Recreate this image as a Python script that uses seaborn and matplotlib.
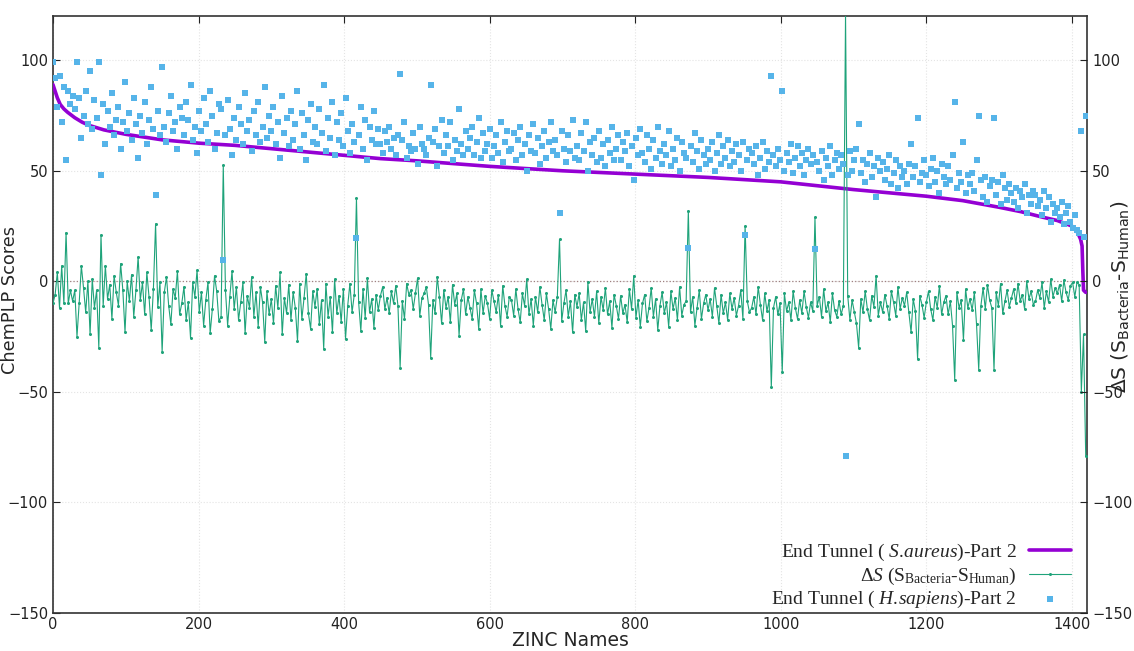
import matplotlib
matplotlib.use("Agg")
import matplotlib.pyplot as plt
import seaborn as sns

# ---------------- data ----------------
# S.aureus end-tunnel scores (sorted curve), key points
purple_x = [0, 3, 6, 10, 15, 20, 30, 40, 50, 70, 100, 150, 200, 250, 300, 350, 400,
            450, 500, 600, 700, 800, 900, 1000, 1100, 1150, 1200, 1250, 1300, 1330,
            1360, 1380, 1400, 1408, 1412, 1414, 1415, 1416, 1419]
purple_y = [89, 86, 83, 80, 78, 76.5, 74, 72, 70.5, 68.5, 66.5, 64, 62.5, 61.5, 60, 58.5, 57,
            55.5, 54.5, 52, 50, 48.5, 47, 45, 41.5, 40, 38.5, 36.5, 33.5, 31.5,
            29, 27.5, 25, 22, 19, 16, 5, -4, -5]

# compound positions (every third compound)
zinc_idx = list(range(0, 1420, 3))

# H.sapiens end-tunnel scores
human_scores = [
    99, 92, 79, 93, 72, 88, 55, 86, 80, 84,
    78, 99, 83, 65, 75, 86, 71, 95, 69, 82,
    74, 99, 48, 80, 62, 77, 70, 85, 66, 73,
    79, 60, 72, 90, 68, 76, 64, 83, 71, 56,
    75, 67, 81, 62, 73, 88, 69, 39, 77, 66,
    97, 70, 63, 76, 84, 68, 72, 60, 79, 74,
    66, 81, 73, 89, 64, 70, 58, 77, 68, 83,
    71, 63, 86, 75, 60, 67, 80, 78, 9.5, 66,
    82, 69, 57, 74, 64, 79, 71, 62, 85, 68,
    73, 59, 77, 66, 81, 63, 70, 88, 65, 75,
    68, 79, 62, 72, 56, 84, 67, 74, 61, 77,
    64, 71, 86, 60, 76, 66, 55, 73, 80, 63,
    70, 62, 78, 67, 89, 59, 74, 65, 81, 57,
    72, 64, 76, 61, 83, 68, 58, 71, 63, 19.5,
    66, 79, 60, 73, 55, 70, 64, 77, 62, 69,
    62, 58, 68, 63, 70, 60, 65, 57, 66, 94,
    64, 72, 56, 61, 59, 67, 60, 53, 70, 62,
    60, 57, 65, 89, 63, 69, 52, 61, 73, 58,
    66, 61, 72, 55, 64, 59, 78, 62, 57, 68,
    60, 65, 70, 57, 63, 74, 56, 67, 59, 62,
    69, 56, 61, 66, 58, 72, 54, 63, 68, 59,
    60, 67, 55, 64, 70, 57, 62, 50, 66, 59,
    71, 58, 65, 53, 61, 68, 56, 63, 72, 59,
    64, 57, 31, 68, 60, 54, 66, 59, 73, 56,
    61, 55, 67, 59, 72, 50, 63, 57, 65, 54,
    68, 56, 62, 52, 64, 58, 70, 55, 60, 66,
    55, 63, 59, 67, 52, 61, 46, 65, 57, 69,
    58, 54, 66, 60, 51, 64, 56, 70, 59, 53,
    62, 57, 68, 52, 60, 55, 65, 50, 63, 58,
    56, 15, 61, 54, 67, 59, 51, 64, 57, 53,
    60, 55, 63, 50, 58, 66, 53, 61, 56, 64,
    52, 59, 54, 62, 57, 50, 63, 21, 55, 60,
    58, 53, 61, 48, 56, 63, 51, 59, 54, 93,
    57, 52, 60, 55, 86, 50, 58, 54, 62, 49,
    56, 61, 52, 58, 48, 55, 60, 53, 57, 14.5,
    54, 50, 59, 46, 56, 52, 61, 48, 55, 58,
    51, 57, 53, -79, 48, 59, 50, 55, 60, 71,
    49, 55, 45, 53, 58, 47, 52, 38, 56, 50,
    54, 46, 51, 57, 44, 49, 55, 42, 52, 47,
    50, 44, 53, 62, 47, 52, 74, 45, 49, 55,
    48, 43, 51, 56, 45, 50, 40, 53, 47, 44,
    52, 46, 57, 81, 42, 49, 45, 63, 40, 48,
    44, 49, 41, 55, 75, 46, 38, 47, 36, 43,
    46, 74, 39, 45, 35, 48, 42, 37, 44, 40,
    36, 42, 33, 41, 38, 44, 31, 39, 35, 41,
    39, 34, 37, 30, 41, 33, 38, 27, 35, 31,
    33, 29, 36, 26, 31, 34, 27, 24, 30, 23,
    22, 68, 20, 75,
]

# Delta S (S_Bacteria - S_Human)
delta_s = [
    -10, -6, 4, -12, 7, -10, 22, -10, -4, -9,
    -4, -25, -10, 7, -3, -14, 0, -24, 1, -12,
    -4, -30, 21, -11, 7, -8, -1.5, -17, 2.5, -5,
    -11, 8, -4, -23, 0, -9, 3, -16, -4, 11,
    -8.5, -0.5, -15, 4, -7, -22, -3.5, 26, -11.5, -0.5,
    -32, -5, 2, -11, -19.5, -3.5, -7.5, 4.5, -15, -10,
    -2.5, -17.5, -9.5, -25.5, -0.5, -7, 5, -14, -5, -20,
    -8.5, -0.5, -23.5, -12.5, 2.5, -4.5, -18, -16, 52.5, -4,
    -20, -7, 4.5, -12.5, -2.5, -17.5, -9.5, -0.5, -23.5, -6.5,
    -12, 2, -16, -5, -20.5, -2.5, -9.5, -27.5, -4.5, -15,
    -8, -19, -2, -12, 4, -24, -7.5, -14.5, -1.5, -17.5,
    -5, -12, -27, -1, -17, -7.5, 3.5, -14.5, -21.5, -4.5,
    -11.5, -3.5, -19.5, -8.5, -30.5, -1, -16, -7, -23, 1,
    -14.5, -6.5, -18.5, -3.5, -26, -11, -1, -14, -6, 37.5,
    -9.5, -22.5, -3.5, -16.5, 1.5, -14, -8, -21, -6, -13,
    -6.5, -2.5, -12.5, -7.5, -14.5, -4.5, -10, -2, -11, -39,
    -9, -17, -1, -6, -4, -12.5, -5.5, 1.5, -15.5, -7.5,
    -5.5, -2.5, -10.5, -34.5, -8.5, -14.5, 2, -7, -19, -4,
    -12, -7, -18.5, -1.5, -10.5, -5.5, -24.5, -8.5, -3.5, -15,
    -7, -12, -17, -4, -10, -21.5, -3.5, -14.5, -6.5, -10,
    -17, -4, -9, -14, -6, -20, -2, -11, -16, -7,
    -8.5, -15.5, -3.5, -12.5, -18.5, -5.5, -11, 1, -15, -8,
    -20, -7, -14, -2.5, -10.5, -17.5, -5.5, -12.5, -21.5, -8.5,
    -14, -7, 19, -18, -10, -4, -16, -9, -23, -6,
    -11.5, -5.5, -17.5, -9.5, -22.5, -0.5, -14, -8, -16, -4.5,
    -19, -7, -13, -3, -15, -9, -21, -6, -11, -17,
    -6.5, -14.5, -10.5, -18.5, -3.5, -12.5, 2.5, -16.5, -8.5, -20.5,
    -10, -6, -18, -12, -3, -16, -8, -22, -11, -5,
    -14.5, -9.5, -20.5, -4.5, -12.5, -7.5, -17.5, -2.5, -15.5, -10.5,
    -9, 32, -14, -7, -20, -12, -4, -17, -10, -6,
    -13, -8, -16, -3, -11, -19, -6, -14.5, -9.5, -17.5,
    -5.5, -12.5, -7.5, -15.5, -11, -4, -17, 25, -9, -14,
    -12, -7, -15, -2.5, -10.5, -17.5, -5.5, -13.5, -8.5, -48,
    -12, -7, -15, -10, -41, -5.5, -13.5, -9.5, -17.5, -4.5,
    -12, -17, -8.5, -14.5, -4.5, -11.5, -16.5, -9.5, -13.5, 29,
    -11, -7, -16, -3.5, -13.5, -9.5, -18.5, -5.5, -13, -16,
    -9, -15, -11, 121, -6.5, -17.5, -8.5, -13.7, -19, -30,
    -8, -14, -4.5, -12.5, -17.5, -6.5, -11.5, 2.5, -15.5, -9.5,
    -14, -6, -11, -17, -4.5, -9.5, -15.5, -2.5, -12.5, -7.5,
    -11, -5, -14, -23, -8, -13.5, -35, -6.5, -10.5, -16.5,
    -9.5, -4.5, -12.5, -17.5, -7, -12, -2, -15, -9.5, -6.5,
    -15, -9, -20, -44.5, -5, -12, -8.5, -26.5, -3.5, -12,
    -8, -13, -5, -19.5, -40, -11, -3, -12.5, -1.5, -8.5,
    -12, -40, -5, -11, -1, -14.5, -9, -4, -11.5, -7.5,
    -3.5, -10, -1, -9, -6, -12.5, 0, -8, -4.5, -10.5,
    -9, -4, -7.5, -0.5, -12, -4.5, -9.5, 1, -7, -3,
    -5.5, -1.5, -9, 0.5, -5, -8.5, -2, -0.5, -7, -0.5,
    -1.5, -50, -24, -79,
]

x_ticks = [0, 200, 400, 600, 800, 1000, 1200, 1400]
y_ticks = [-150, -100, -50, 0, 50, 100]

label_purple = "End Tunnel ( $\\it{S.\\!aureus}$)-Part 2"
label_green = "Δ$\\it{S}$ (S$_\\mathrm{Bacteria}$-S$_\\mathrm{Human}$)"
label_blue = "End Tunnel ( $\\it{H.\\!sapiens}$)-Part 2"

# ---------------- style ----------------
sns.set_style("white")
plt.rcParams["font.family"] = ["DejaVu Sans"]
plt.rcParams["mathtext.fontset"] = "custom"
plt.rcParams["mathtext.rm"] = "Liberation Serif"
plt.rcParams["mathtext.it"] = "Liberation Serif:italic"
plt.rcParams["mathtext.sf"] = "DejaVu Sans"

C_PURPLE = "#9400d3"
C_GREEN = "#1fa37a"
C_BLUE = "#56b4e9"

fig = plt.figure(figsize=(11.34, 6.51), dpi=100)
ax = fig.add_axes([0.0467, 0.0584, 0.912, 0.917])

sns.lineplot(x=purple_x, y=purple_y, ax=ax, color=C_PURPLE, linewidth=2.6,
             estimator=None, sort=False, label=label_purple, zorder=3)
sns.lineplot(x=zinc_idx, y=delta_s, ax=ax, color=C_GREEN, linewidth=0.8,
             marker="o", markersize=2.2, markeredgewidth=0, estimator=None,
             sort=False, label=label_green, zorder=4)
sns.scatterplot(x=zinc_idx, y=human_scores, ax=ax, color=C_BLUE, marker="s",
                s=20, linewidth=0, label=label_blue, zorder=5)

ax.set_xlim(0, 1421)
ax.set_ylim(-150, 120)
ax.set_xticks(x_ticks)
ax.set_yticks(y_ticks)
ax.grid(True, color="#e4e4e4", linestyle=":", linewidth=0.8)
ax.axhline(0, color="#a08080", linestyle=":", linewidth=0.9, zorder=2)
ax.tick_params(direction="in", length=5, width=0.8, labelsize=10.5,
               colors="#222222", top=True, right=False)
ax.tick_params(axis="x", pad=3)
for s in ax.spines.values():
    s.set_color("#333333")
    s.set_linewidth(1.2)

ax.set_xlabel("ZINC Names", fontsize=13.5, labelpad=-1)
ax.set_ylabel("ChemPLP Scores", fontsize=12.8)
ax.yaxis.set_label_coords(-0.033, 0.525)

ax2 = ax.twinx()
ax2.set_ylim(-150, 120)
ax2.set_yticks(y_ticks)
ax2.tick_params(direction="in", length=5, width=0.8, labelsize=10.5, colors="#222222")
for s in ax2.spines.values():
    s.set_visible(False)
ax2.set_ylabel("ΔS (S$_\\mathsf{Bacteria}$-S$_\\mathsf{Human}$)", fontsize=14.5,
               rotation=90, va="center")
ax2.yaxis.set_label_coords(1.032, 0.53)

handles, labels = ax.get_legend_handles_labels()
leg = ax.legend(handles, labels, loc="lower right", frameon=False,
                markerfirst=False, prop={"family": "Liberation Serif", "size": 14},
                handlelength=2.2, handletextpad=0.6, labelspacing=0.12,
                borderaxespad=0.15, bbox_to_anchor=(0.995, -0.013))

fig.savefig("out.png", dpi=100)
